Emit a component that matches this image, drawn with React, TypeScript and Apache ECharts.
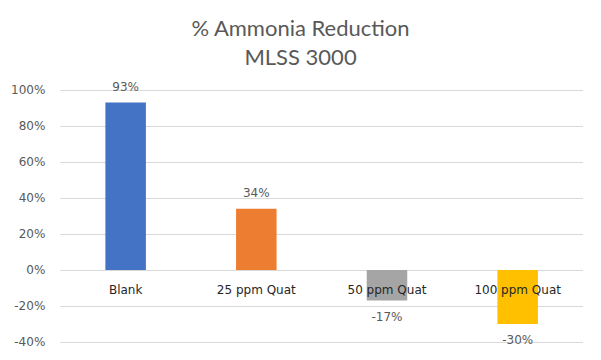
import React, { useEffect, useRef } from "react";
import * as echarts from "echarts";

const categories = ["Blank", "25 ppm Quat", "50 ppm Quat", "100 ppm Quat"];
const values = [0.93, 0.34, -0.17, -0.3];
const colors = ["#4472C4", "#ED7D31", "#A5A5A5", "#FFC000"];
const titleLines = ["% Ammonia Reduction", "MLSS 3000"];

export default function App() {
  const ref = useRef<HTMLDivElement>(null);
  useEffect(() => {
    if (!ref.current) return;
    const chart = echarts.init(ref.current, null, { renderer: "svg" });
    chart.setOption({
      animation: false,
      backgroundColor: "#ffffff",
      title: {
        text: titleLines.join("\n"),
        left: "center",
        top: 0,
        textStyle: {
          fontFamily: "Lato",
          fontSize: 22,
          fontWeight: "normal",
          color: "#595959",
          lineHeight: 29,
        },
      },
      grid: { left: 51, right: 10, top: 82, bottom: 10 },
      xAxis: {
        type: "category",
        data: categories,
        offset: -72,
        z: 10,
        axisLine: { onZero: false, show: false },
        axisTick: { show: false },
        axisLabel: {
          margin: 14,
          fontFamily: "DejaVu Sans",
          fontSize: 12,
          color: "#262626",
        },
      },
      yAxis: {
        type: "value",
        min: -0.4,
        max: 1.0,
        interval: 0.2,
        axisLine: { show: false },
        axisTick: { show: false },
        splitLine: { lineStyle: { color: "#d9d9d9" } },
        axisLabel: {
          margin: 15,
          fontFamily: "DejaVu Sans",
          fontSize: 12,
          color: "#595959",
          formatter: (v: number) => `${Math.round(v * 100)}%`,
        },
      },
      series: [
        {
          type: "bar",
          barWidth: "31%",
          z: 2,
          data: values.map((v, i) => ({
            value: v,
            itemStyle: { color: colors[i] },
            label: { position: v >= 0 ? "top" : "bottom" },
          })),
          label: {
            show: true,
            distance: 10,
            fontFamily: "DejaVu Sans",
            fontSize: 12,
            color: "#595959",
            formatter: (p: any) => `${Math.round(p.value * 100)}%`,
          },
        },
      ],
    });
    return () => chart.dispose();
  }, []);
  return <div ref={ref} style={{ width: 585, height: 344 }} />;
}
